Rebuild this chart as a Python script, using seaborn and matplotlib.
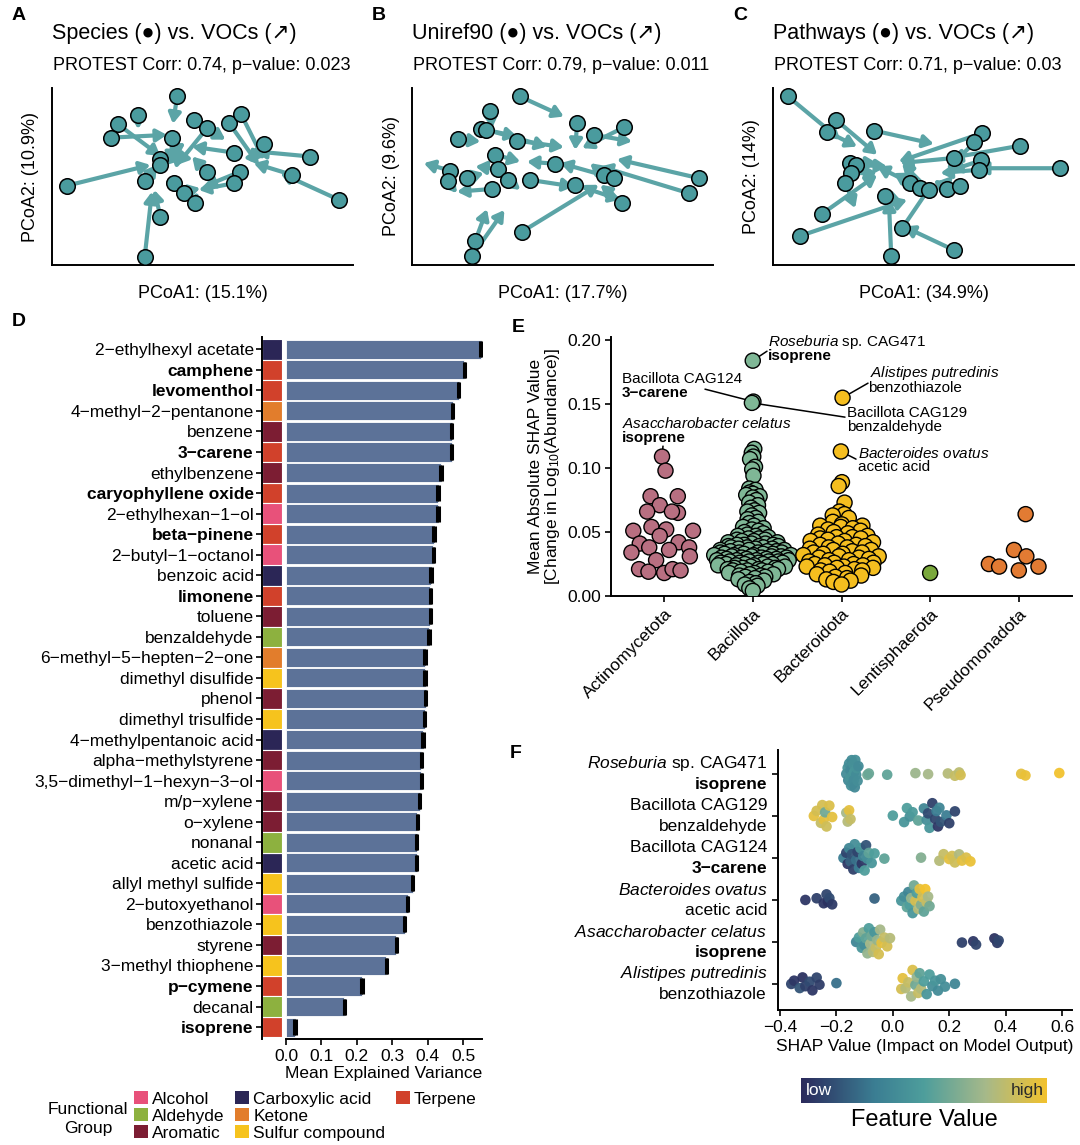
import numpy as np
import pandas as pd
import seaborn as sns
import matplotlib.pyplot as plt
from matplotlib.colors import LinearSegmentedColormap
from matplotlib.patches import Patch

# === Style ===
sns.set_theme(style="ticks", rc={"axes.edgecolor": "black", "xtick.color": "black",
                                 "ytick.color": "black", "text.color": "black",
                                 "axes.labelcolor": "black"})
plt.rcParams['font.family'] = ['Liberation Sans', 'DejaVu Sans']
plt.rcParams['mathtext.fontset'] = 'custom'
plt.rcParams['mathtext.rm'] = 'Liberation Sans'
plt.rcParams['mathtext.it'] = 'Liberation Sans:italic'
plt.rcParams['mathtext.bf'] = 'Liberation Sans:bold'

FS = 12.5

# === Panels A-C: Procrustes (sample position -> VOC position) ===
spec_x = [4.17, 2.87, 2.19, 1.98, 4.00, 4.72, 5.17, 5.89, 6.30, 7.06, 8.61, 6.06, 3.59, 3.59,
          0.50, 3.11, 5.17, 6.26, 6.06, 4.06, 4.39, 4.78, 8.00, 9.56, 3.61, 3.09]
spec_y = [5.61, 4.98, 4.69, 4.24, 4.24, 4.81, 4.56, 4.74, 5.02, 4.03, 3.61, 3.74, 3.52, 3.33,
          2.64, 2.81, 3.08, 3.10, 2.72, 2.72, 2.41, 2.06, 3.00, 2.17, 1.61, 0.28]
spec_vx = [4.03, 2.87, 3.61, 3.83, 3.97, 5.78, 4.17, 6.89, 7.06, 6.56, 6.78, 4.67, 4.44, 4.50,
           3.28, 3.50, 4.67, 5.06, 4.89, 4.28, 4.94, 4.83, 6.72, 7.61, 3.41, 3.33]
spec_vy = [4.70, 4.52, 3.63, 4.33, 3.39, 4.17, 3.33, 3.33, 3.50, 3.41, 3.78, 3.94, 4.06, 3.61,
           3.33, 3.33, 3.61, 2.61, 2.50, 2.94, 2.56, 2.44, 3.39, 3.06, 2.50, 2.44]

uni_x = [3.59, 2.61, 5.50, 7.06, 6.06, 2.30, 2.48, 1.52, 3.50, 2.78, 4.78, 1.28, 1.19, 1.83,
         2.86, 3.19, 2.67, 3.94, 5.44, 6.39, 6.72, 9.56, 9.22, 7.00, 3.67, 2.11, 2.00]
uni_y = [5.61, 5.13, 4.72, 4.58, 4.33, 4.53, 4.50, 4.19, 4.14, 3.67, 3.37, 3.14, 2.78, 2.89,
         3.19, 2.83, 2.53, 2.83, 2.67, 3.00, 2.89, 2.89, 2.39, 2.06, 1.11, 0.81, 0.30]
uni_vx = [5.06, 2.67, 5.44, 5.67, 7.33, 3.50, 4.50, 2.28, 5.06, 3.61, 3.83, 0.39, 1.50, 2.39,
          2.11, 3.61, 1.50, 5.39, 6.94, 5.94, 4.94, 6.83, 6.28, 6.28, 6.22, 2.50, 3.08]
uni_vy = [4.94, 4.56, 3.83, 3.89, 4.11, 4.28, 3.94, 4.11, 3.92, 3.44, 3.44, 3.39, 2.39, 3.06,
          3.28, 2.50, 2.44, 2.61, 2.17, 3.39, 3.39, 3.52, 3.28, 2.67, 2.67, 1.86, 1.83]

path_x = [0.50, 2.10, 1.80, 3.38, 6.97, 6.71, 8.24, 6.02, 6.93, 6.86, 9.58, 2.56, 2.78, 2.60,
          2.41, 4.56, 4.91, 5.21, 5.80, 6.24, 3.74, 1.63, 0.91, 4.30, 6.02, 3.94]
path_y = [5.61, 4.83, 4.44, 4.47, 4.39, 4.08, 3.97, 3.56, 3.48, 3.17, 3.22, 3.39, 3.33, 3.06,
          2.74, 2.74, 2.56, 2.48, 2.52, 2.63, 2.28, 1.70, 0.97, 1.22, 0.50, 0.30]
path_vx = [2.24, 3.47, 2.80, 5.36, 4.19, 5.80, 5.91, 4.24, 5.91, 5.58, 6.80, 3.47, 3.80, 3.47,
           2.74, 3.47, 4.02, 4.30, 5.36, 5.47, 4.30, 3.47, 4.47, 5.36, 4.36, 3.86]
path_vy = [4.17, 3.67, 3.94, 4.03, 3.44, 3.17, 3.56, 3.39, 3.14, 3.06, 3.22, 3.39, 3.28, 3.06,
           1.89, 3.28, 3.06, 3.39, 2.83, 2.78, 2.11, 3.00, 2.17, 2.78, 1.28, 2.17]

pcoa_titles = ["Species (\u25cf) vs. VOCs (\u2197)", "Uniref90 (\u25cf) vs. VOCs (\u2197)",
               "Pathways (\u25cf) vs. VOCs (\u2197)"]
protest_text = ["PROTEST Corr: 0.74, p\u2212value: 0.023", "PROTEST Corr: 0.79, p\u2212value: 0.011",
                "PROTEST Corr: 0.71, p\u2212value: 0.03"]
pcoa1_lab = ["PCoA1: (15.1%)", "PCoA1: (17.7%)", "PCoA1: (34.9%)"]
pcoa2_lab = ["PCoA2: (10.9%)", "PCoA2: (9.6%)", "PCoA2: (14%)"]

# === Panel D: explained variance per VOC ===
voc_names = ["2-ethylhexyl acetate", "camphene", "levomenthol", "4-methyl-2-pentanone", "benzene",
             "3-carene", "ethylbenzene", "caryophyllene oxide", "2-ethylhexan-1-ol", "beta-pinene",
             "2-butyl-1-octanol", "benzoic acid", "limonene", "toluene", "benzaldehyde",
             "6-methyl-5-hepten-2-one", "dimethyl disulfide", "phenol", "dimethyl trisulfide",
             "4-methylpentanoic acid", "alpha-methylstyrene", "3,5-dimethyl-1-hexyn-3-ol",
             "m/p-xylene", "o-xylene", "nonanal", "acetic acid", "allyl methyl sulfide",
             "2-butoxyethanol", "benzothiazole", "styrene", "3-methyl thiophene", "p-cymene",
             "decanal", "isoprene"]
voc_variance = [0.550, 0.503, 0.487, 0.470, 0.467, 0.467, 0.437, 0.429, 0.429, 0.417, 0.416,
                0.409, 0.407, 0.407, 0.404, 0.392, 0.392, 0.394, 0.391, 0.387, 0.382, 0.382,
                0.377, 0.371, 0.369, 0.369, 0.357, 0.343, 0.335, 0.311, 0.283, 0.215, 0.165,
                0.025]
voc_sd = [0.002] * 34
voc_group = ["Carboxylic acid", "Terpene", "Terpene", "Ketone", "Aromatic", "Terpene", "Aromatic",
             "Terpene", "Alcohol", "Terpene", "Alcohol", "Carboxylic acid", "Terpene", "Aromatic",
             "Aldehyde", "Ketone", "Sulfur compound", "Aromatic", "Sulfur compound",
             "Carboxylic acid", "Aromatic", "Alcohol", "Aromatic", "Aromatic", "Aldehyde",
             "Carboxylic acid", "Sulfur compound", "Alcohol", "Sulfur compound", "Aromatic",
             "Sulfur compound", "Terpene", "Aldehyde", "Terpene"]
group_names = ["Alcohol", "Aldehyde", "Aromatic", "Carboxylic acid", "Ketone", "Sulfur compound", "Terpene"]
group_colors = ["#E8517A", "#8DB13F", "#7C1D33", "#2B2656", "#E27D2C", "#F6C31D", "#D1412B"]

# === Panel E: mean |SHAP| per species-VOC pair, by phylum ===
phyla = ["Actinomycetota", "Bacillota", "Bacteroidota", "Lentisphaerota", "Pseudomonadota"]
phylum_colors = ["#B86F81", "#7FB796", "#F5BE1F", "#7AA83C", "#E27B33"]
shap_actino = [0.109, 0.098, 0.078, 0.078, 0.071, 0.066, 0.065, 0.066, 0.054, 0.051, 0.051, 0.052,
               0.047, 0.041, 0.042, 0.036, 0.038, 0.038, 0.034, 0.031, 0.028, 0.021, 0.019, 0.018,
               0.021, 0.020]
shap_bacillota = [0.184, 0.152, 0.151, 0.115, 0.112, 0.109, 0.107, 0.101, 0.099, 0.094, 0.084,
                  0.083, 0.081, 0.080, 0.079, 0.078, 0.077, 0.075, 0.073, 0.071, 0.069, 0.067,
                  0.066, 0.065, 0.063, 0.061, 0.060, 0.058, 0.057, 0.055, 0.054, 0.053, 0.052,
                  0.051, 0.050, 0.049, 0.048, 0.047, 0.047, 0.046, 0.045, 0.045, 0.044, 0.044,
                  0.043, 0.043, 0.042, 0.042, 0.041, 0.041, 0.040, 0.040, 0.040, 0.039, 0.039,
                  0.039, 0.038, 0.038, 0.038, 0.037, 0.037, 0.037, 0.036, 0.036, 0.036, 0.035,
                  0.035, 0.035, 0.034, 0.034, 0.034, 0.034, 0.033, 0.033, 0.033, 0.033, 0.032,
                  0.032, 0.032, 0.032, 0.031, 0.031, 0.031, 0.031, 0.030, 0.030, 0.030, 0.030,
                  0.029, 0.029, 0.029, 0.029, 0.028, 0.028, 0.028, 0.028, 0.027, 0.027, 0.027,
                  0.027, 0.026, 0.026, 0.026, 0.026, 0.025, 0.025, 0.025, 0.025, 0.024, 0.024,
                  0.024, 0.023, 0.023, 0.023, 0.022, 0.022, 0.022, 0.021, 0.021, 0.021, 0.020,
                  0.020, 0.020, 0.019, 0.019, 0.018, 0.018, 0.017, 0.017, 0.016, 0.016, 0.015,
                  0.015, 0.014, 0.013, 0.012, 0.011, 0.010, 0.009, 0.008, 0.006, 0.004]
shap_bacteroidota = [0.155, 0.113, 0.089, 0.086, 0.073, 0.066, 0.064, 0.063, 0.061, 0.058, 0.056,
                     0.055, 0.055, 0.054, 0.053, 0.052, 0.051, 0.050, 0.049, 0.048, 0.047, 0.046,
                     0.046, 0.045, 0.045, 0.044, 0.043, 0.043, 0.042, 0.041, 0.040, 0.040, 0.039,
                     0.038, 0.038, 0.037, 0.036, 0.036, 0.035, 0.034, 0.034, 0.033, 0.033, 0.032,
                     0.031, 0.031, 0.030, 0.030, 0.029, 0.028, 0.028, 0.027, 0.026, 0.026, 0.025,
                     0.025, 0.024, 0.024, 0.023, 0.023, 0.022, 0.022, 0.021, 0.020, 0.020, 0.019,
                     0.018, 0.017, 0.016, 0.015, 0.014, 0.013, 0.012, 0.011, 0.009]
shap_lentis = [0.018]
shap_pseudo = [0.064, 0.036, 0.031, 0.025, 0.023, 0.023, 0.020]

# === Panel F: per-sample SHAP values for the top pairs ===
pair_line1 = [r"$\it{Roseburia}$ sp. CAG471", "Bacillota CAG129", "Bacillota CAG124",
              r"$\it{Bacteroides\ ovatus}$", r"$\it{Asaccharobacter\ celatus}$",
              r"$\it{Alistipes\ putredinis}$"]
pair_line2 = ["isoprene", "benzaldehyde", "3\u2212carene", "acetic acid", "isoprene", "benzothiazole"]
pair_bold = [True, False, True, False, True, False]

shap_roseburia = [-0.165, -0.160, -0.158, -0.155, -0.152, -0.150, -0.148, -0.146, -0.145, -0.143,
                  -0.142, -0.140, -0.138, -0.137, -0.135, -0.133, -0.130, -0.128, -0.125, -0.122,
                  -0.090, -0.085, -0.020, 0.080, 0.125, 0.195, 0.220, 0.235, 0.240, 0.455, 0.470, 0.590]
feat_roseburia = [0.38, 0.42, 0.36, 0.40, 0.44, 0.37, 0.41, 0.39, 0.43, 0.36, 0.40, 0.42, 0.38, 0.45,
                  0.37, 0.41, 0.39, 0.43, 0.40, 0.38, 0.60, 0.58, 0.55, 0.72, 0.75, 0.80, 0.85, 0.82,
                  0.90, 0.95, 0.97, 1.00]
shap_cag129 = [-0.280, -0.270, -0.255, -0.250, -0.245, -0.240, -0.235, -0.225, -0.215, -0.165,
               -0.160, -0.155, -0.150, 0.000, 0.040, 0.050, 0.060, 0.070, 0.090, 0.110, 0.120,
               0.125, 0.130, 0.140, 0.150, 0.155, 0.160, 0.165, 0.170, 0.190, 0.200, 0.220]
feat_cag129 = [0.95, 0.90, 0.85, 0.90, 0.95, 0.60, 0.88, 0.92, 0.95, 0.75, 0.80, 0.95, 0.85, 0.50,
               0.45, 0.50, 0.42, 0.48, 0.55, 0.35, 0.40, 0.12, 0.45, 0.08, 0.10, 0.30, 0.05, 0.35,
               0.15, 0.30, 0.08, 0.10]
shap_cag124 = [-0.175, -0.165, -0.160, -0.155, -0.150, -0.145, -0.140, -0.135, -0.130, -0.125,
               -0.120, -0.115, -0.110, -0.105, -0.100, -0.095, -0.090, -0.085, -0.075, -0.065,
               -0.030, 0.100, 0.165, 0.180, 0.200, 0.210, 0.220, 0.235, 0.245, 0.260, 0.275]
feat_cag124 = [0.30, 0.10, 0.05, 0.35, 0.20, 0.15, 0.08, 0.40, 0.25, 0.10, 0.30, 0.45, 0.05, 0.35,
               0.50, 0.15, 0.40, 0.55, 0.45, 0.50, 0.55, 0.65, 0.80, 0.85, 0.95, 0.90, 0.88, 0.78,
               0.95, 0.92, 0.97]
shap_ovatus = [-0.310, -0.270, -0.245, -0.235, -0.230, -0.225, -0.215, -0.065, 0.030, 0.040, 0.050,
               0.055, 0.060, 0.065, 0.070, 0.075, 0.080, 0.085, 0.090, 0.095, 0.100, 0.105, 0.110,
               0.115, 0.120, 0.125, 0.130]
feat_ovatus = [0.05, 0.08, 0.05, 0.10, 0.03, 0.12, 0.06, 0.20, 0.45, 0.40, 0.55, 0.35, 0.50, 0.70,
               0.45, 0.60, 0.90, 0.50, 0.80, 0.95, 0.65, 0.90, 0.55, 1.00, 0.85, 0.75, 0.60]
shap_asacch = [-0.130, -0.120, -0.110, -0.105, -0.100, -0.095, -0.090, -0.085, -0.080, -0.075,
               -0.070, -0.065, -0.060, -0.055, -0.050, -0.045, -0.040, -0.030, -0.020, -0.010,
               0.245, 0.285, 0.295, 0.360, 0.370, 0.375]
feat_asacch = [0.35, 0.50, 0.45, 0.65, 0.40, 0.55, 0.70, 0.50, 0.75, 0.60, 0.80, 0.45, 0.85, 0.70,
               0.90, 0.75, 0.95, 0.85, 0.90, 0.80, 0.08, 0.05, 0.10, 0.03, 0.06, 0.10]
shap_alistipes = [-0.360, -0.350, -0.330, -0.320, -0.310, -0.295, -0.285, -0.270, -0.260, -0.200,
                  0.030, 0.035, 0.045, 0.055, 0.065, 0.070, 0.080, 0.085, 0.090, 0.095, 0.100,
                  0.110, 0.120, 0.130, 0.140, 0.150, 0.160, 0.170, 0.185, 0.220]
feat_alistipes = [0.10, 0.05, 0.15, 0.03, 0.08, 0.12, 0.05, 0.10, 0.07, 0.25, 0.90, 0.95, 0.80,
                  0.85, 0.75, 0.92, 0.60, 0.70, 0.85, 0.55, 0.80, 0.50, 0.45, 0.50, 0.40, 0.45,
                  0.38, 0.42, 0.40, 0.35]

W, H = 1080, 1145
fig = plt.figure(figsize=(W / 100, H / 100), dpi=100)


def px_axes(l, t, r, b):
    return fig.add_axes([l / W, 1 - b / H, (r - l) / W, (b - t) / H])


def ftext(x, y, s, **kw):
    kw.setdefault("va", "center")
    kw.setdefault("fontsize", FS)
    fig.text(x / W, 1 - y / H, s, **kw)


def vdc(n):
    out = []
    for i in range(1, n + 1):
        q, denom, k = 0.0, 1.0, i
        while k:
            denom *= 2
            k, r = divmod(k, 2)
            q += r / denom
        out.append(q)
    return np.array(out)


def quasi_offsets(vals, width, bw):
    # quasirandom spread: van der Corput order scaled by local density
    v = np.asarray(vals, float)
    d = np.exp(-0.5 * ((v[:, None] - v[None, :]) / bw) ** 2).sum(1)
    d = d / d.max()
    order = np.argsort(v, kind="stable")
    off = np.zeros(len(v))
    off[order] = (vdc(len(v)) - 0.5) * 2 * width * d[order]
    return off


# === Panels A-C ===
LINE_C = "#5BA4A6"
PT_C = "#4A9B9E"
pcoa_sets = [(spec_x, spec_y, spec_vx, spec_vy), (uni_x, uni_y, uni_vx, uni_vy),
             (path_x, path_y, path_vx, path_vy)]
for k, (px_, py_, vx_, vy_) in enumerate(pcoa_sets):
    off = 360 * k
    left = 52 + off if k < 2 else 773
    ax = px_axes(left, 88, left + 301, 265)
    for x0, y0, x1, y1 in zip(px_, py_, vx_, vy_):
        ax.annotate("", xy=(x1, y1), xytext=(x0, y0), zorder=1,
                    arrowprops=dict(arrowstyle="-|>,head_length=0.5,head_width=0.3",
                                    color=LINE_C, lw=3.0, shrinkA=0, shrinkB=0))
    sns.scatterplot(x=px_, y=py_, ax=ax, s=125, color=PT_C, edgecolor="black",
                    linewidth=1.1, zorder=3, legend=False)
    ax.set_xlim(0, 10.03)
    ax.set_ylim(0, 5.89)
    ax.set_xticks([])
    ax.set_yticks([])
    sns.despine(ax=ax)
    for sp in ["left", "bottom"]:
        ax.spines[sp].set_linewidth(1.4)
    ax.set_xlabel(pcoa1_lab[k], fontsize=13, va="center")
    ax.xaxis.set_label_coords(0.5, -28 / 177)
    ax.set_ylabel(pcoa2_lab[k], fontsize=13, va="center")
    ax.yaxis.set_label_coords(-21 / 301, 0.5)
    ftext(left, 34, pcoa_titles[k], fontsize=15.5)
    ftext(left + 1, 65, protest_text[k], fontsize=13)
    ftext(left - 40, 15, "ABC"[k], fontsize=14, fontweight="bold")

# === Panel D ===
n_voc = len(voc_names)
dfD = pd.DataFrame({"voc": voc_names, "variance": voc_variance, "group": voc_group,
                    "tile": [1.0] * n_voc})
pal_groups = dict(zip(group_names, group_colors))
top_d, step_d = 349.3, 20.54
bot_d = top_d + step_d * (n_voc - 1)
axS = px_axes(262, top_d - 0.6 * step_d, 282, bot_d + 0.6 * step_d)
axD = px_axes(286, top_d - 0.6 * step_d, 482, bot_d + 0.6 * step_d)

sns.barplot(data=dfD, x="tile", y="voc", hue="group", palette=pal_groups, dodge=False,
            width=1.0, edgecolor="white", linewidth=0.8, legend=False, ax=axS, orient="h",
            saturation=1)
axS.set_xlim(0, 1)
axS.set_ylim(n_voc - 0.4, -0.6)
axS.set_xticks([])
axS.set_xlabel("")
axS.set_ylabel("")
axS.set_yticks(range(n_voc))
axS.set_yticklabels([v.replace("-", "\u2212") for v in voc_names], fontsize=FS)
for lbl, g in zip(axS.get_yticklabels(), voc_group):
    if g == "Terpene":
        lbl.set_fontweight("bold")
axS.tick_params(axis="y", length=4, width=1.2, pad=2)
for sp in ["top", "right", "bottom"]:
    axS.spines[sp].set_visible(False)
axS.spines["left"].set_linewidth(1.4)

sns.barplot(data=dfD, x="variance", y="voc", color="#5C7298", width=0.93, edgecolor="white",
            linewidth=0.6, errorbar=None, ax=axD, orient="h", saturation=1)
axD.errorbar(voc_variance, np.arange(n_voc), xerr=voc_sd, fmt="none", ecolor="black",
             elinewidth=1.5, capsize=6.0, capthick=2.2, zorder=4)
axD.set_xlim(0, 0.553)
axD.set_ylim(n_voc - 0.4, -0.6)
axD.set_yticks([])
axD.set_ylabel("")
axD.set_xticks([0.0, 0.1, 0.2, 0.3, 0.4, 0.5])
axD.set_xticklabels(["0.0", "0.1", "0.2", "0.3", "0.4", "0.5"], fontsize=FS)
axD.tick_params(axis="x", length=4, width=1.2, pad=3)
axD.set_xlabel("Mean Explained Variance", fontsize=FS, labelpad=1)
for sp in ["top", "right", "left"]:
    axD.spines[sp].set_visible(False)
axD.spines["bottom"].set_linewidth(1.4)
ftext(12, 322, "D", fontsize=14, fontweight="bold")

# legend filled column-wise 3/3/1, two empty slots keep Terpene alone in the last column
handles = [Patch(facecolor=c, edgecolor="none") for c in group_colors]
handles += [Patch(facecolor="none", edgecolor="none")] * 2
fig.legend(handles, group_names + ["", ""], ncol=3, loc="upper left",
           bbox_to_anchor=(134 / W, 1 - 1091 / H), frameon=False, fontsize=FS,
           handlelength=0.8, handleheight=0.8, handletextpad=0.25, columnspacing=0.6,
           labelspacing=0.08, borderpad=0, borderaxespad=0)
ftext(88, 1119, "Functional\nGroup", ha="center", linespacing=1.3)

# === Panel E ===
axE = px_axes(611, 337, 1072, 596)
shap_groups = [shap_actino, shap_bacillota, shap_bacteroidota, shap_lentis, shap_pseudo]
rowsE = []
for i, (ph, vals) in enumerate(zip(phyla, shap_groups)):
    offs = quasi_offsets(vals, 0.45, 0.006)
    for v, o in zip(vals, offs):
        rowsE.append((ph, v, i + o))
dfE = pd.DataFrame(rowsE, columns=["phylum", "shap", "xpos"])
sns.scatterplot(data=dfE, x="xpos", y="shap", hue="phylum", palette=dict(zip(phyla, phylum_colors)),
                s=118, edgecolor="black", linewidth=1.0, legend=False, ax=axE, zorder=3)
axE.set_xlim(-0.6, 4.6)
axE.set_ylim(0, 0.2025)
axE.set_xticks(range(len(phyla)))
axE.set_xticklabels(phyla, rotation=45, ha="right", rotation_mode="anchor", fontsize=FS)
axE.set_yticks([0.0, 0.05, 0.10, 0.15, 0.20])
axE.set_yticklabels(["0.00", "0.05", "0.10", "0.15", "0.20"], fontsize=FS)
axE.tick_params(length=4, width=1.2, pad=3)
axE.set_xlabel("")
axE.set_ylabel("Mean Absolute SHAP Value\n[Change in Log$_{10}$(Abundance)]", fontsize=FS,
               va="center", linespacing=1.0)
axE.yaxis.set_label_coords(-66 / 461, 0.5)
sns.despine(ax=axE)
for sp in ["left", "bottom"]:
    axE.spines[sp].set_linewidth(1.4)
ftext(512, 328, "E", fontsize=14, fontweight="bold")


def e_data(xp, yp):
    return (-0.6 + (xp - 611) / 461 * 5.2, (596 - yp) / 1280)


def e_point(ph, val):
    r = dfE[(dfE.phylum == ph) & (np.isclose(dfE.shap, val))].iloc[0]
    return r.xpos, r.shap


e_links = [(("Bacillota", 0.184), (767, 351)), (("Bacillota", 0.152), (705, 389)),
           (("Bacillota", 0.151), (845, 417)), (("Bacteroidota", 0.155), (868, 383)),
           (("Actinomycetota", 0.109), (663, 446)), (("Bacteroidota", 0.113), (856, 459))]
for (ph, val), (xp, yp) in e_links:
    x0, y0 = e_point(ph, val)
    x1, y1 = e_data(xp, yp)
    axE.plot([x0, x1], [y0, y1], color="black", lw=1.1, zorder=2, clip_on=False)

AFS = 11
ftext(768, 342, r"$\it{Roseburia}$ sp. CAG471", fontsize=AFS)
ftext(768, 356, "isoprene", fontsize=AFS, fontweight="bold")
ftext(622, 379, "Bacillota CAG124", fontsize=AFS)
ftext(622, 393, "3\u2212carene", fontsize=AFS, fontweight="bold")
ftext(870, 373, r"$\it{Alistipes\ putredinis}$", fontsize=AFS)
ftext(868, 388, "benzothiazole", fontsize=AFS)
ftext(847, 413, "Bacillota CAG129", fontsize=AFS)
ftext(847, 427, "benzaldehyde", fontsize=AFS)
ftext(622, 424, r"$\it{Asaccharobacter\ celatus}$", fontsize=AFS)
ftext(622, 438, "isoprene", fontsize=AFS, fontweight="bold")
ftext(858, 453, r"$\it{Bacteroides\ ovatus}$", fontsize=AFS)
ftext(858, 467, "acetic acid", fontsize=AFS)

# === Panel F ===
cmap_feat = LinearSegmentedColormap.from_list(
    "feat", [(0.0, "#2B2A5C"), (0.3, "#3B7E93"), (0.5, "#4E9E9C"), (0.75, "#A6B98A"),
             (1.0, "#F2C22E")])
axF = px_axes(778, 750, 1072, 1010)
shap_rows = [shap_roseburia, shap_cag129, shap_cag124, shap_ovatus, shap_asacch, shap_alistipes]
feat_rows = [feat_roseburia, feat_cag129, feat_cag124, feat_ovatus, feat_asacch, feat_alistipes]
rowsF = []
for i, (sv, fv) in enumerate(zip(shap_rows, feat_rows)):
    offs = quasi_offsets(sv, 0.38, 0.02)
    for s_, f_, o in zip(sv, fv, offs):
        rowsF.append((s_, f_, i + o))
dfF = pd.DataFrame(rowsF, columns=["shap", "feature", "ypos"])
sns.scatterplot(data=dfF, x="shap", y="ypos", hue="feature", palette=cmap_feat, hue_norm=(0, 1),
                s=58, linewidth=0, alpha=0.95, legend=False, ax=axF)
axF.set_xlim(-0.407, 0.635)
axF.set_ylim(5.62, -0.57)
axF.set_xticks([-0.4, -0.2, 0.0, 0.2, 0.4, 0.6])
axF.set_xticklabels(["\u22120.4", "\u22120.2", "0.0", "0.2", "0.4", "0.6"], fontsize=FS)
axF.set_yticks(range(6))
axF.set_yticklabels([])
axF.tick_params(length=4, width=1.2, pad=3)
axF.set_ylabel("")
axF.set_xlabel("SHAP Value (Impact on Model Output)", fontsize=FS, labelpad=3)
sns.despine(ax=axF)
for sp in ["left", "bottom"]:
    axF.spines[sp].set_linewidth(1.4)
tr = axF.get_yaxis_transform()
for i in range(6):
    axF.text(-11 / 294, i - 0.24, pair_line1[i], transform=tr, ha="right", va="center", fontsize=FS)
    axF.text(-11 / 294, i + 0.24, pair_line2[i], transform=tr, ha="right", va="center", fontsize=FS,
             fontweight="bold" if pair_bold[i] else "normal")
ftext(510, 753, "F", fontsize=14, fontweight="bold")

# colour bar for feature value
axC = px_axes(801, 1078, 1047, 1103)
axC.imshow(np.linspace(0, 1, 256)[None, :], aspect="auto", cmap=cmap_feat, extent=[0, 1, 0, 1])
axC.set_xticks([])
axC.set_yticks([])
for sp in axC.spines.values():
    sp.set_visible(False)
axC.text(0.02, 0.5, "low", color="white", ha="left", va="center", fontsize=FS, transform=axC.transAxes)
axC.text(0.985, 0.5, "high", color="#2a2a2a", ha="right", va="center", fontsize=FS,
         transform=axC.transAxes)
ftext(924, 1120, "Feature Value", ha="center", fontsize=17)

fig.savefig("out.png", dpi=100)
